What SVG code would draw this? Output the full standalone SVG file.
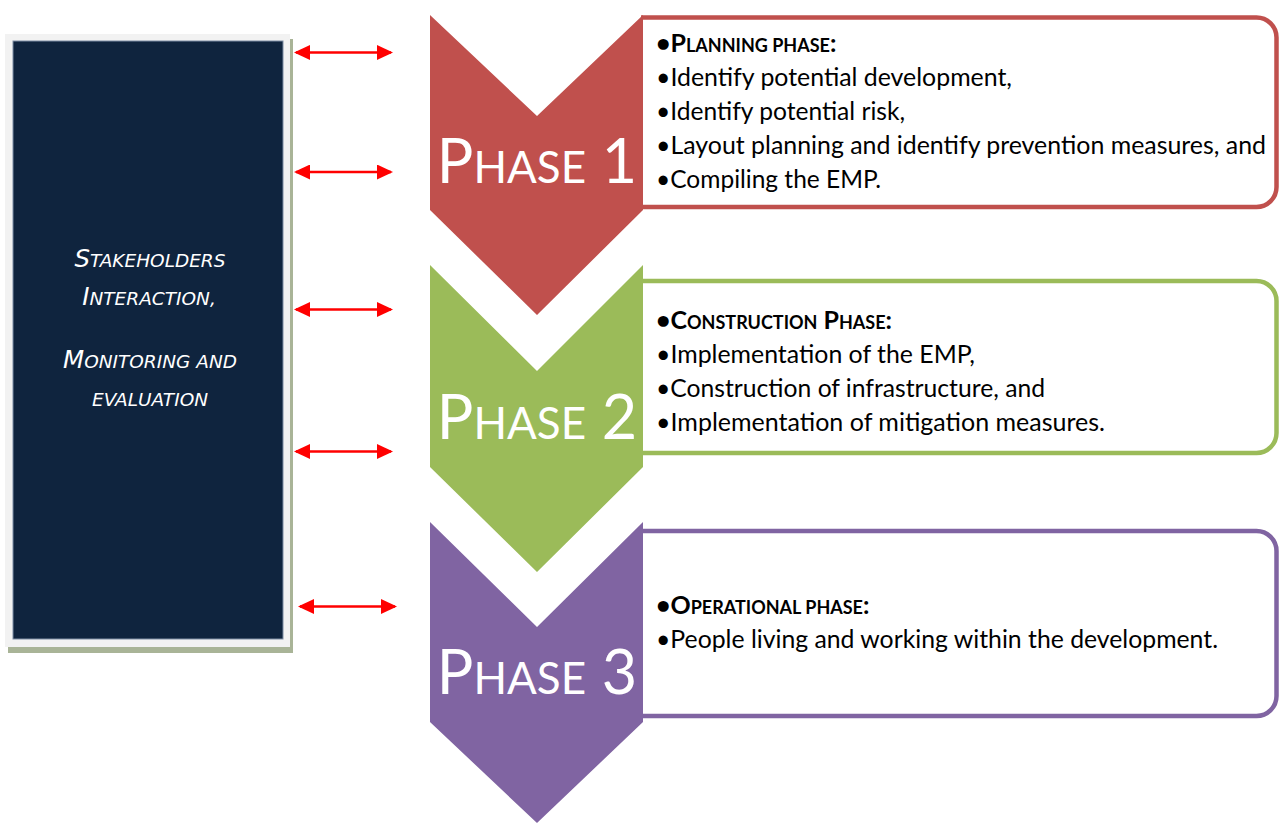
<svg xmlns="http://www.w3.org/2000/svg" width="1279" height="824" viewBox="0 0 1279 824">
<defs>
<style>
.box{fill:#ffffff;stroke-width:4.5}
.t{font-family:Lato,"Open Sans","Liberation Sans",sans-serif;font-size:25px;fill:#000000}
.h{font-weight:bold;font-size:25px}
.sm{font-size:18px}
.ph{font-family:Lato,"Open Sans","Liberation Sans",sans-serif;font-size:61px;fill:#ffffff;text-anchor:middle}
.phs{font-size:44px}
.lt{font-family:"DejaVu Sans","Liberation Sans",sans-serif;font-style:italic;font-size:24.5px;fill:#ffffff;text-anchor:middle}
.lts{font-size:18.5px}
.arr{stroke:#ff0000;stroke-width:2.6;fill:none}
</style>
<marker id="ah" viewBox="0 0 16 15" refX="14" refY="7.5" markerWidth="16" markerHeight="15" markerUnits="userSpaceOnUse" orient="auto-start-reverse">
<path d="M0,0 L16,7.5 L0,15 Z" fill="#ff0000"/>
</marker>
</defs>

<g id="stakeholders">
<rect x="8" y="39" width="285" height="614" fill="#a9b497"/>
<rect x="5" y="34" width="285" height="613" fill="#f2f2f2"/>
<rect x="13" y="41" width="270" height="598" fill="#0f243e" stroke="#7d8ca3" stroke-width="1"/>
<text class="lt" x="150" y="267">S<tspan class="lts">TAKEHOLDERS</tspan></text>
<text class="lt" x="149" y="305">I<tspan class="lts">NTERACTION,</tspan></text>
<text class="lt" x="150" y="368">M<tspan class="lts">ONITORING AND</tspan></text>
<text class="lt lts" x="150" y="406">EVALUATION</text>
</g>

<g id="connectors">
<line class="arr" x1="296" y1="52.5" x2="391" y2="52.5" marker-start="url(#ah)" marker-end="url(#ah)"/>
<line class="arr" x1="296" y1="172" x2="391" y2="172" marker-start="url(#ah)" marker-end="url(#ah)"/>
<line class="arr" x1="296" y1="309.5" x2="391" y2="309.5" marker-start="url(#ah)" marker-end="url(#ah)"/>
<line class="arr" x1="296" y1="451.5" x2="391" y2="451.5" marker-start="url(#ah)" marker-end="url(#ah)"/>
<line class="arr" x1="300" y1="606.5" x2="395" y2="606.5" marker-start="url(#ah)" marker-end="url(#ah)"/>
</g>

<g id="phase1">
<path class="box" stroke="#c0504d" d="M641,17.5 H1256.5 A20,20 0 0 1 1276.5,37.5 V187 A20,20 0 0 1 1256.5,207 H641"/>
<path d="M430,15 L537,116 L643,15 L643,210 L537,315 L430,210 Z" fill="#c0504d"/>
<text class="ph" x="537" y="183">P<tspan class="phs">HASE</tspan> 1</text>
<text class="t h" x="656" y="52">•P<tspan class="sm">LANNING PHASE</tspan>:</text>
<text class="t" x="656" y="86" textLength="356" lengthAdjust="spacingAndGlyphs">•Identify potential development,</text>
<text class="t" x="656" y="120" textLength="249" lengthAdjust="spacingAndGlyphs">•Identify potential risk,</text>
<text class="t" x="656" y="154" textLength="610" lengthAdjust="spacingAndGlyphs">•Layout planning and identify prevention measures, and</text>
<text class="t" x="656" y="188" textLength="225" lengthAdjust="spacingAndGlyphs">•Compiling the EMP.</text>
</g>

<g id="phase2">
<path class="box" stroke="#9bbb59" d="M641,281 H1256.5 A20,20 0 0 1 1276.5,301 V433 A20,20 0 0 1 1256.5,453 H641"/>
<path d="M430,265 L537,371 L643,265 L643,467 L537,572 L430,467 Z" fill="#9bbb59"/>
<text class="ph" x="537" y="439">P<tspan class="phs">HASE</tspan> 2</text>
<text class="t h" x="656" y="329">•C<tspan class="sm">ONSTRUCTION</tspan> P<tspan class="sm">HASE</tspan>:</text>
<text class="t" x="656" y="363" textLength="319" lengthAdjust="spacingAndGlyphs">•Implementation of the EMP,</text>
<text class="t" x="656" y="397" textLength="389" lengthAdjust="spacingAndGlyphs">•Construction of infrastructure, and</text>
<text class="t" x="656" y="431" textLength="449" lengthAdjust="spacingAndGlyphs">•Implementation of mitigation measures.</text>
</g>

<g id="phase3">
<path class="box" stroke="#8064a2" d="M641,531 H1256.5 A20,20 0 0 1 1276.5,551 V696 A20,20 0 0 1 1256.5,716 H641"/>
<path d="M430,522 L537,627 L643,522 L643,722 L537,823 L430,722 Z" fill="#8064a2"/>
<text class="ph" x="537" y="694">P<tspan class="phs">HASE</tspan> 3</text>
<text class="t h" x="656" y="614">•O<tspan class="sm">PERATIONAL PHASE</tspan>:</text>
<text class="t" x="656" y="648" textLength="562" lengthAdjust="spacingAndGlyphs">•People living and working within the development.</text>
</g>
</svg>
